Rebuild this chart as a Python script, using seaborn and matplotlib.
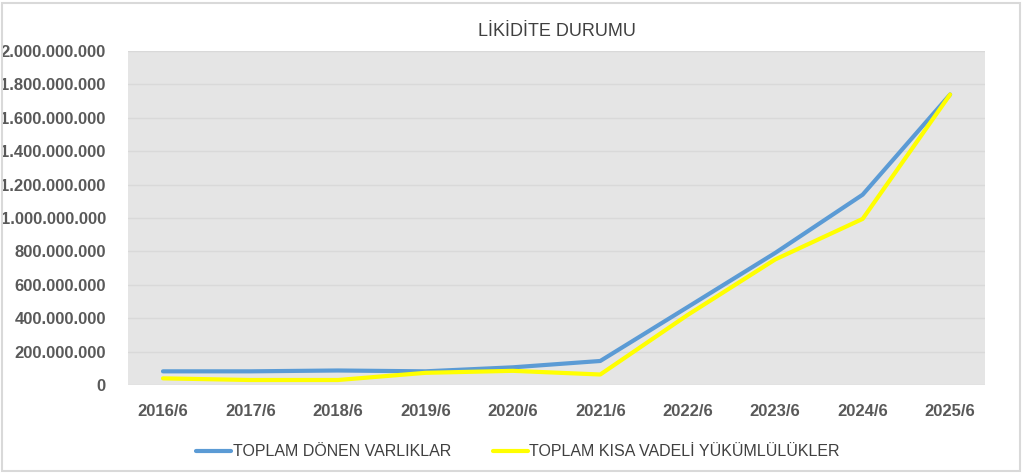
import matplotlib
matplotlib.use("Agg")
import matplotlib.pyplot as plt
import matplotlib.ticker as mticker
from matplotlib.patches import Rectangle
import seaborn as sns
import pandas as pd

# data
periods = ["2016/6", "2017/6", "2018/6", "2019/6", "2020/6",
           "2021/6", "2022/6", "2023/6", "2024/6", "2025/6"]
donen_varliklar = [82e6, 82e6, 87e6, 82e6, 106e6, 144e6, 467e6, 791e6, 1140e6, 1740e6]
kisa_vadeli = [40e6, 30e6, 30e6, 73e6, 85e6, 63e6, 420e6, 752e6, 995e6, 1740e6]
series_names = ["TOPLAM DÖNEN VARLIKLAR", "TOPLAM KISA VADELİ YÜKÜMLÜLÜKLER"]

df = pd.DataFrame({
    "period": periods * 2,
    "value": donen_varliklar + kisa_vadeli,
    "series": [series_names[0]] * len(periods) + [series_names[1]] * len(periods),
})

sns.set_theme(style="white")
plt.rcParams["font.family"] = ["Liberation Sans", "DejaVu Sans"]

fig = plt.figure(figsize=(10.24, 4.73), dpi=100)
ax = fig.add_axes([0.125, 0.186, 0.837, 0.706])
ax.set_facecolor("#e5e5e5")

sns.lineplot(data=df, x="period", y="value", hue="series", sort=False,
             palette=["#5b9bd5", "#ffff00"], linewidth=3, ax=ax)

ax.set_ylim(0, 2e9)
ax.set_xlim(-0.4, len(periods) - 0.6)
ax.yaxis.set_major_locator(mticker.MultipleLocator(2e8))
ax.yaxis.set_major_formatter(mticker.FuncFormatter(lambda v, p: f"{int(v):,}".replace(",", ".")))
ax.grid(axis="y", color="#d9d9d9", linewidth=1)
ax.set_axisbelow(True)
for s in ax.spines.values():
    s.set_visible(False)
ax.tick_params(axis="both", length=0, labelsize=12, labelcolor="#595959")
ax.tick_params(axis="x", pad=14)
ax.tick_params(axis="y", pad=16)
for lbl in ax.get_xticklabels() + ax.get_yticklabels():
    lbl.set_fontweight("bold")
ax.set_xlabel("")
ax.set_ylabel("")

ax.set_title("LİKİDİTE DURUMU", fontsize=13, color="#404040", pad=11)

handles, labels = ax.get_legend_handles_labels()
ax.legend(handles, labels, loc="upper center", bbox_to_anchor=(0.455, -0.135), ncol=2,
          frameon=False, fontsize=11.5, labelcolor="#404040", handlelength=2.2,
          handletextpad=0.1, columnspacing=2.6)

fig.patches.append(Rectangle((0.002, 0.004), 0.994, 0.99, transform=fig.transFigure,
                             fill=False, edgecolor="#d9d9d9", linewidth=1.5))

fig.savefig("out.png", dpi=100)
